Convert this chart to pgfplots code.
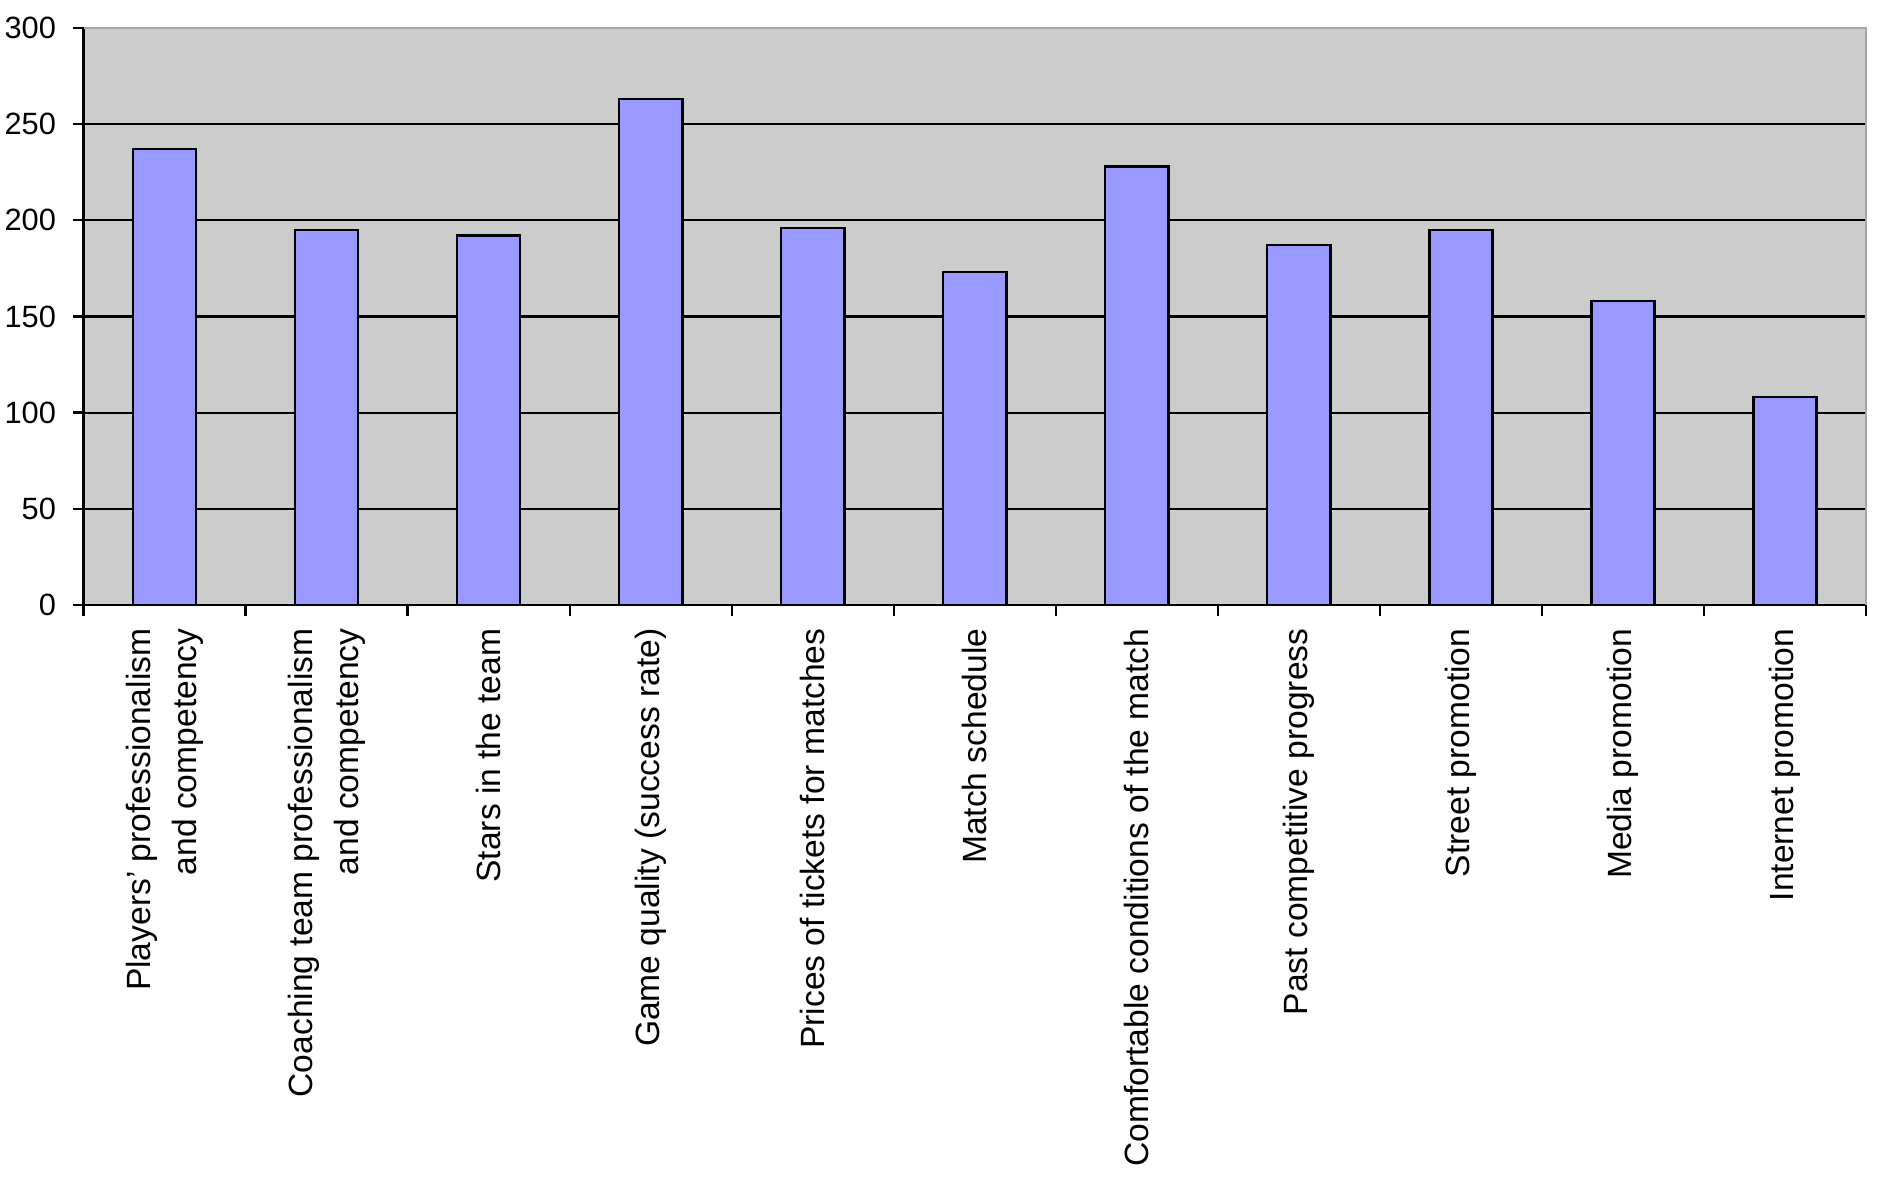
\documentclass[border=0pt]{standalone}
\usepackage{pgfplots}
\pgfplotsset{compat=1.18}
\usepackage{fontspec}
\setmainfont{Liberation Sans}
\definecolor{bgray}{HTML}{CCCCCC}
\definecolor{barblue}{HTML}{9999FF}
\begin{document}
\begin{tikzpicture}
\useasboundingbox (-20.9pt,-144pt) rectangle (454.85pt,151.25pt);
\begin{axis}[
  scale only axis,
  width=445.6pt, height=144.3pt,
  xmin=-0.5, xmax=10.5,
  ymin=0, ymax=300,
  axis background/.style={fill=bgray},
  axis x line*=bottom, axis y line*=left,
  axis line style={black, line width=0.7pt},
  axis line style={-},
  ytick={0,50,...,250},
  extra y ticks={300},
  extra y tick style={grid=none},
  ymajorgrids,
  major grid style={black, line width=0.55pt},
  tick align=outside,
  major tick length=2.7pt,
  minor tick length=2.7pt,
  tick style={black, line width=0.6pt},
  xtick={0,...,10},
  minor xtick={-0.5,0.5,...,10.5},
  every major x tick/.append style={draw=none},
  xticklabels={{Players’ professionalism\\and competency},
               {Coaching team professionalism\\and competency},
               {Stars in the team},
               {Game quality (success rate)},
               {Prices of tickets for matches},
               {Match schedule},
               {Comfortable conditions of the match},
               {Past competitive progress},
               {Street promotion},
               {Media promotion},
               {Internet promotion}},
  xticklabel shift=3pt,
  x tick label style={rotate=90, anchor=east, align=right, inner sep=0pt,
     font=\fontsize{8.4}{11.5}\selectfont},
  y tick label style={inner sep=0pt, font=\fontsize{7.7}{9}\selectfont},
  yticklabel shift=4pt,
  /pgf/number format/assume math mode=true,
  after end axis/.code={
    \draw[gray!70, line width=0.6pt] (rel axis cs:0,1) -- (rel axis cs:1,1) -- (rel axis cs:1,0);
  },
]
\addplot[ybar, bar width=0.39, fill=barblue, draw=black, line width=0.6pt]
  coordinates {(0,237) (1,195) (2,192) (3,263) (4,196) (5,173) (6,228) (7,187) (8,195) (9,158) (10,108)};
\end{axis}
\end{tikzpicture}
\end{document}
